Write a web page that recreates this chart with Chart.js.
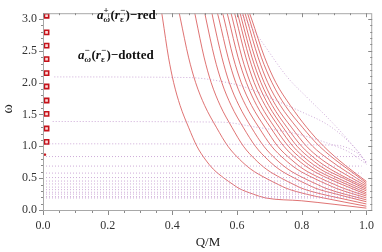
<!DOCTYPE html>
<html><head><meta charset="utf-8">
<script src="https://cdn.jsdelivr.net/npm/chart.js@4/dist/chart.umd.min.js"></script>
<style>html,body{margin:0;padding:0;background:#fff}canvas{display:block}</style>
</head><body>
<canvas id="c" width="382" height="252"></canvas>
<script>
// ---- data ----
const xTicks = [0, 0.2, 0.4, 0.6, 0.8, 1.0];
const yTicks = [0, 0.5, 1.0, 1.5, 2.0, 2.5, 3.0];

// red curves a_w^+(r_e^-): [Q/M, omega] pairs
const red00 = [[0.367,3.1],[0.370,3.0],[0.388,2.4],[0.404,2.0],[0.424,1.64],[0.450,1.3],[0.476,1.0],[0.501,0.8],[0.527,0.64],[0.560,0.5],[0.588,0.4],[0.606,0.34],[0.650,0.25],[0.688,0.19],[0.80,0.145],[0.90,0.09],[1.0,0.03]];
const red01 = [[0.421,3.1],[0.425,3.0],[0.450,2.4],[0.472,2.0],[0.500,1.64],[0.536,1.3],[0.572,1.0],[0.607,0.8],[0.643,0.64],[0.689,0.5],[0.728,0.4],[0.753,0.34],[0.814,0.25],[0.867,0.19],[1.0,0.06]];
const red02 = [[0.469,3.1],[0.473,3.0],[0.498,2.4],[0.520,2.0],[0.548,1.64],[0.584,1.3],[0.620,1.0],[0.655,0.8],[0.691,0.64],[0.737,0.5],[0.776,0.4],[0.801,0.34],[0.862,0.25],[0.915,0.19],[1.0,0.095]];
const red03 = [[0.500,3.1],[0.504,3.0],[0.530,2.4],[0.553,2.0],[0.582,1.64],[0.619,1.3],[0.657,1.0],[0.693,0.8],[0.730,0.64],[0.778,0.5],[0.818,0.4],[0.844,0.34],[0.907,0.25],[1.0,0.13]];
const red04 = [[0.522,3.1],[0.526,3.0],[0.553,2.4],[0.576,2.0],[0.606,1.64],[0.644,1.3],[0.683,1.0],[0.720,0.8],[0.758,0.64],[0.807,0.5],[0.849,0.4],[0.875,0.34],[1.0,0.16]];
const red05 = [[0.539,3.1],[0.544,3.0],[0.572,2.4],[0.596,2.0],[0.627,1.64],[0.667,1.3],[0.707,1.0],[0.746,0.8],[0.786,0.64],[0.837,0.5],[0.880,0.4],[0.907,0.34],[1.0,0.19]];
const red06 = [[0.555,3.1],[0.560,3.0],[0.588,2.4],[0.613,2.0],[0.645,1.64],[0.686,1.3],[0.726,1.0],[0.766,0.8],[0.806,0.64],[0.858,0.5],[0.902,0.4],[0.930,0.34],[1.0,0.22]];
const red07 = [[0.569,3.1],[0.574,3.0],[0.603,2.4],[0.629,2.0],[0.661,1.64],[0.703,1.3],[0.745,1.0],[0.785,0.8],[0.827,0.64],[0.880,0.5],[0.925,0.4],[1.0,0.245]];
const red08 = [[0.581,3.1],[0.586,3.0],[0.615,2.4],[0.641,2.0],[0.674,1.64],[0.716,1.3],[0.759,1.0],[0.800,0.8],[0.842,0.64],[0.896,0.5],[0.941,0.4],[1.0,0.27]];
const red09 = [[0.592,3.1],[0.597,3.0],[0.627,2.4],[0.653,2.0],[0.687,1.64],[0.730,1.3],[0.773,1.0],[0.814,0.8],[0.858,0.64],[0.912,0.5],[1.0,0.30]];
const red10 = [[0.601,3.1],[0.606,3.0],[0.637,2.4],[0.664,2.0],[0.698,1.64],[0.742,1.3],[0.786,1.0],[0.829,0.8],[0.873,0.64],[0.929,0.5],[1.0,0.325]];
const red11 = [[0.609,3.1],[0.614,3.0],[0.646,2.4],[0.674,2.0],[0.709,1.64],[0.754,1.3],[0.800,1.0],[0.843,0.8],[0.889,0.64],[1.0,0.35]];
const red12 = [[0.617,3.1],[0.622,3.0],[0.655,2.4],[0.684,2.0],[0.720,1.64],[0.768,1.3],[0.815,1.0],[0.860,0.8],[0.908,0.64],[1.0,0.375]];
const red13 = [[0.624,3.1],[0.630,3.0],[0.665,2.4],[0.695,2.0],[0.734,1.64],[0.784,1.3],[0.834,1.0],[0.882,0.8],[1.0,0.40]];
const red14 = [[0.632,3.1],[0.638,3.0],[0.675,2.4],[0.708,2.0],[0.749,1.64],[0.802,1.3],[0.855,1.0],[1.0,0.425]];
const red15 = [[0.638,3.1],[0.645,3.0],[0.685,2.4],[0.720,2.0],[0.765,1.64],[0.815,1.3],[0.868,1.0],[0.935,0.7],[1.0,0.45]];

// red markers near Q/M = 0
const markQ = 0.011;
const markW = [3.05, 2.79, 2.58, 2.37, 2.15, 1.94, 1.72, 1.51, 1.28, 1.07];
const markSmall = [[0.006, 0.87]];

// dotted curves a_w^-(r_e^-)
const dot00 = [[0.61,3.1],[0.67,2.69],[0.755,2.09],[0.82,1.75],[0.88,1.45],[0.94,1.12],[1.0,0.75]];
const dot01 = [[0.035,2.09],[0.45,2.08],[0.55,2.02],[0.63,1.92],[0.72,1.72],[0.80,1.54],[0.88,1.34],[0.94,1.10],[0.985,0.85],[1.0,0.72]];
const dot02 = [[0.03,1.39],[0.55,1.38],[0.66,1.30],[0.78,1.20],[0.88,1.05],[0.95,0.90],[1.0,0.72]];
const dot03 = [[0.01,1.04],[0.90,1.02],[0.97,0.90],[1.0,0.75]];
const dotLevels = [0.84, 0.69, 0.58, 0.51, 0.455, 0.41, 0.36, 0.32, 0.28, 0.25, 0.21, 0.19];
const dotLevelStart = 0.0;
const dotLevelEnd = 0.985;

// ---- build datasets ----
const redCurves = [red00,red01,red02,red03,red04,red05,red06,red07,red08,red09,red10,red11,red12,red13,red14,red15];
const dotCurves = [dot00,dot01,dot02,dot03].concat(dotLevels.map(w => [[dotLevelStart,w],[dotLevelEnd,w]]));
const toPts = arr => arr.map(p => ({x:p[0], y:p[1]}));

const datasets = [];
dotCurves.forEach(c => datasets.push({
  data: toPts(c), showLine: true, pointRadius: 0, borderWidth: 1,
  borderColor: 'rgba(185,135,200,0.7)', borderDash: [1,2],
  cubicInterpolationMode: 'monotone', fill: false
}));
redCurves.forEach(c => datasets.push({
  data: toPts(c), showLine: true, pointRadius: 0, borderWidth: 1,
  borderColor: 'rgba(215,80,80,0.8)', cubicInterpolationMode: 'monotone', fill: false
}));
datasets.push({
  data: markW.map(w => ({x:markQ, y:w})), showLine: false,
  pointStyle: 'rect', pointRadius: 3, borderWidth: 1.6,
  borderColor: '#c4121a', backgroundColor: 'rgba(255,215,215,0.9)'
});
datasets.push({
  data: toPts(markSmall), showLine: false, pointStyle: 'rect', pointRadius: 1,
  borderWidth: 1, borderColor: '#c4121a', backgroundColor: '#c4121a'
});

const SERIF = '"Liberation Serif", "DejaVu Serif", serif';

const decor = {
  id: 'decor',
  afterDraw(chart) {
    const ctx = chart.ctx, ca = chart.chartArea, xs = chart.scales.x, ys = chart.scales.y;
    ctx.save();
    ctx.strokeStyle = '#a8a8a8'; ctx.lineWidth = 1;
    ctx.strokeRect(ca.left + 0.5, ca.top + 0.5, ca.right - ca.left - 1, ca.bottom - ca.top - 1);
    ctx.strokeStyle = '#8a8a8a';
    ctx.beginPath();
    for (let i = 0; i <= 20; i++) {
      const v = i / 20, p = Math.round(xs.getPixelForValue(v)) + 0.5, len = (i % 4 === 0) ? 4 : 2;
      ctx.moveTo(p, ca.bottom); ctx.lineTo(p, ca.bottom + len);
      ctx.moveTo(p, ca.top); ctx.lineTo(p, ca.top + len);
    }
    for (let i = 0; i <= 30; i++) {
      const v = i / 10, p = Math.round(ys.getPixelForValue(v)) + 0.5, len = (i % 5 === 0) ? 4 : 2;
      ctx.moveTo(ca.left - len, p); ctx.lineTo(ca.left, p);
      ctx.moveTo(ca.right - len, p); ctx.lineTo(ca.right, p);
    }
    ctx.stroke();
    ctx.fillStyle = '#222';
    ctx.font = '13px ' + SERIF; ctx.textAlign = 'center'; ctx.textBaseline = 'middle';
    ctx.fillText('Q/M', 208, 243);
    ctx.save(); ctx.translate(8, 109); ctx.rotate(-Math.PI/2);
    ctx.font = '14px ' + SERIF; ctx.fillText('\u03c9', 0, 0); ctx.restore();
    ctx.textAlign = 'left'; ctx.textBaseline = 'alphabetic'; ctx.fillStyle = '#111';
    const big = 'bold 13px ' + SERIF, bigI = 'italic bold 13px ' + SERIF;
    const sm = 'bold 9px ' + SERIF, smI = 'italic bold 9px ' + SERIF;
    function rich(x, y, parts) {
      for (const p of parts) {
        if (p.sup !== undefined) {
          ctx.font = sm; const w1 = ctx.measureText(p.sup).width; ctx.fillText(p.sup, x, y - 6);
          ctx.font = p.subI ? smI : sm; const w2 = ctx.measureText(p.sub).width; ctx.fillText(p.sub, x, y + 3);
          x += Math.max(w1, w2) + 0.5;
        } else {
          ctx.font = p.i ? bigI : big; ctx.fillText(p.t, x, y); x += ctx.measureText(p.t).width;
        }
      }
    }
    rich(97, 19, [{t:'a', i:true},{sup:'+', sub:'\u03c9', subI:true},{t:'('},{t:'r', i:true},{sup:'\u2212', sub:'\u03b5'},{t:')'},{t:'\u2212red'}]);
    rich(78, 59, [{t:'a', i:true},{sup:'\u2212', sub:'\u03c9', subI:true},{t:'('},{t:'r', i:true},{sup:'\u2212', sub:'\u03b5'},{t:')'},{t:'\u2212dotted'}]);
    ctx.restore();
  }
};

new Chart(document.getElementById('c'), {
  type: 'scatter',
  data: { datasets },
  options: {
    responsive: false, animation: false, devicePixelRatio: 1,
    layout: { padding: { top: 3, right: 3, left: 0, bottom: 0 } },
    plugins: { legend: { display: false }, tooltip: { enabled: false } },
    elements: { line: { tension: 0 } },
    scales: {
      x: {
        type: 'linear', min: 0, max: 1.018,
        afterFit: s => { s.height = 41; },
        afterBuildTicks: s => { s.ticks = xTicks.map(v => ({value: v})); },
        grid: { display: false, drawTicks: false },
        border: { display: false },
        ticks: { padding: 8, color: '#333', font: { family: SERIF, size: 12 }, maxRotation: 0, autoSkip: false,
                 callback: v => Number(v).toFixed(1) }
      },
      y: {
        type: 'linear', min: -0.015, max: 3.09,
        afterFit: s => { s.width = 43; },
        afterBuildTicks: s => { s.ticks = yTicks.map(v => ({value: v})); },
        grid: { display: false, drawTicks: false },
        border: { display: false },
        ticks: { padding: 6, color: '#333', font: { family: SERIF, size: 12 }, autoSkip: false,
                 callback: v => Number(v).toFixed(1) }
      }
    }
  },
  plugins: [decor]
});
</script>
</body></html>
